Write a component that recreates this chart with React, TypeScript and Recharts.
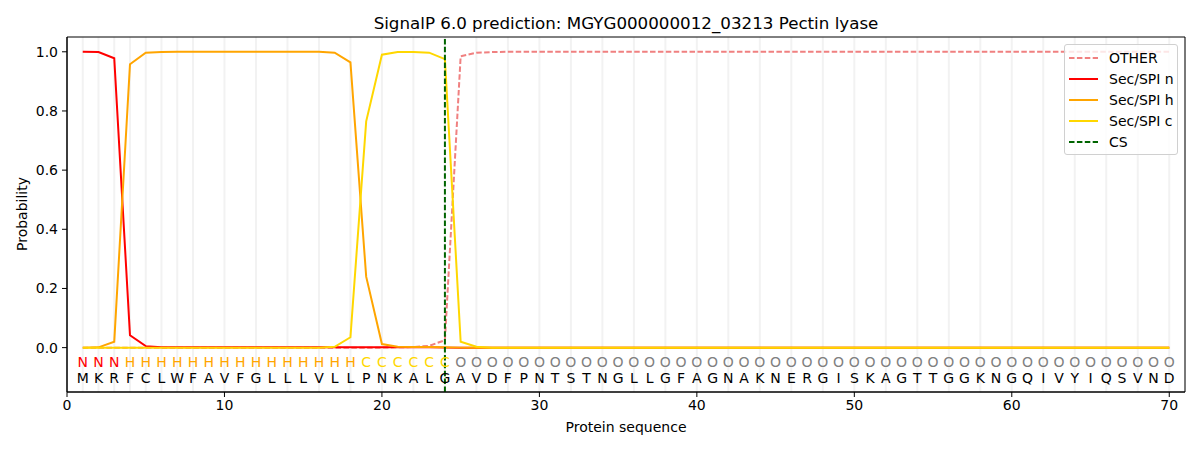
import {
  CartesianGrid,
  ComposedChart,
  Legend,
  Line,
  ReferenceArea,
  ReferenceLine,
  Scatter,
  XAxis,
  YAxis,
} from "recharts";

// residues 1..70
const sequence = [
  "M", "K", "R", "F", "C", "L", "W", "F", "A", "V",
  "F", "G", "L", "L", "L", "V", "L", "L", "P", "N",
  "K", "A", "L", "G", "A", "V", "D", "F", "P", "N",
  "T", "S", "T", "N", "G", "L", "L", "G", "F", "A",
  "G", "N", "A", "K", "N", "E", "R", "G", "I", "S",
  "K", "A", "G", "T", "T", "G", "G", "K", "N", "G",
  "Q", "I", "V", "Y", "I", "Q", "S", "V", "N", "D",
];

const regionLabels = [
  "N", "N", "N", "H", "H", "H", "H", "H", "H", "H",
  "H", "H", "H", "H", "H", "H", "H", "H", "C", "C",
  "C", "C", "C", "C", "O", "O", "O", "O", "O", "O",
  "O", "O", "O", "O", "O", "O", "O", "O", "O", "O",
  "O", "O", "O", "O", "O", "O", "O", "O", "O", "O",
  "O", "O", "O", "O", "O", "O", "O", "O", "O", "O",
  "O", "O", "O", "O", "O", "O", "O", "O", "O", "O",
];

const otherProb = [
  0, 0, 0, 0, 0, 0, 0, 0, 0, 0,
  0, 0, 0, 0, 0, 0, 0, 0, 0, 0,
  0.001, 0.002, 0.006, 0.025, 0.985, 0.997, 0.999, 1, 1, 1,
  1, 1, 1, 1, 1, 1, 1, 1, 1, 1,
  1, 1, 1, 1, 1, 1, 1, 1, 1, 1,
  1, 1, 1, 1, 1, 1, 1, 1, 1, 1,
  1, 1, 1, 1, 1, 1, 1, 1, 1, 1,
];

const secN = [
  1.0, 0.999, 0.978, 0.042, 0.005, 0.001, 0.001, 0.001, 0.001, 0.001,
  0.001, 0.001, 0.001, 0.001, 0.001, 0.001, 0.001, 0.001, 0.001, 0.001,
  0.001, 0.001, 0.001, 0, 0, 0, 0, 0, 0, 0,
  0, 0, 0, 0, 0, 0, 0, 0, 0, 0,
  0, 0, 0, 0, 0, 0, 0, 0, 0, 0,
  0, 0, 0, 0, 0, 0, 0, 0, 0, 0,
  0, 0, 0, 0, 0, 0, 0, 0, 0, 0,
];

const secH = [
  0, 0.001, 0.02, 0.958, 0.997, 0.999, 1, 1, 1, 1,
  1, 1, 1, 1, 1, 1, 0.997, 0.964, 0.24, 0.012,
  0.003, 0.002, 0.002, 0.001, 0, 0, 0, 0, 0, 0,
  0, 0, 0, 0, 0, 0, 0, 0, 0, 0,
  0, 0, 0, 0, 0, 0, 0, 0, 0, 0,
  0, 0, 0, 0, 0, 0, 0, 0, 0, 0,
  0, 0, 0, 0, 0, 0, 0, 0, 0, 0,
];

const secC = [
  0, 0, 0, 0, 0, 0, 0, 0, 0, 0,
  0, 0, 0, 0, 0, 0, 0.003, 0.035, 0.765, 0.99,
  0.999, 0.999, 0.997, 0.975, 0.02, 0.003, 0, 0, 0, 0,
  0, 0, 0, 0, 0, 0, 0, 0, 0, 0,
  0, 0, 0, 0, 0, 0, 0, 0, 0, 0,
  0, 0, 0, 0, 0, 0, 0, 0, 0, 0,
  0, 0, 0, 0, 0, 0, 0, 0, 0, 0,
];

const cleavageSite = 24;
const xTicks = [0, 10, 20, 30, 40, 50, 60, 70];
const yTicks = [0, 0.2, 0.4, 0.6, 0.8, 1.0];

const LABEL_ROW = -0.048;
const SEQ_ROW = -0.103;

const regionColors: Record<string, string> = {
  N: "#ff0000",
  H: "#ffa500",
  C: "#ffd700",
  O: "#808080",
};

const legendItems = [
  { name: "OTHER", color: "#f08080", dashed: true },
  { name: "Sec/SPI n", color: "#ff0000", dashed: false },
  { name: "Sec/SPI h", color: "#ffa500", dashed: false },
  { name: "Sec/SPI c", color: "#ffd700", dashed: false },
  { name: "CS", color: "#006400", dashed: true },
];

const data = sequence.map((aa, i) => ({
  pos: i + 1,
  aa,
  region: regionLabels[i],
  other: otherProb[i],
  n: secN[i],
  h: secH[i],
  c: secC[i],
  labelRow: LABEL_ROW,
  seqRow: SEQ_ROW,
}));
const positions = data.map((d) => d.pos);

const font = "'DejaVu Sans', sans-serif";

function LegendBox() {
  return (
    <div
      style={{
        background: "rgba(255,255,255,0.8)",
        border: "1px solid #d0d0d0",
        borderRadius: 3,
        padding: "2px 8px 2px 4px",
        fontSize: 14,
        fontFamily: font,
        color: "#000",
        width: 100,
      }}
    >
      {legendItems.map((it) => (
        <div
          key={it.name}
          style={{ display: "flex", alignItems: "center", height: 21 }}
        >
          <svg width={29} height={4} style={{ flex: "none" }}>
            <line
              x1={0}
              y1={2}
              x2={29}
              y2={2}
              stroke={it.color}
              strokeWidth={2}
              strokeDasharray={it.dashed ? "5.5 2.4" : undefined}
            />
          </svg>
          <span style={{ marginLeft: 11, whiteSpace: "nowrap" }}>{it.name}</span>
        </div>
      ))}
    </div>
  );
}

function letterShape(row: "region" | "aa") {
  return (props: any) => {
    const { cx, cy, payload } = props;
    const ch = payload[row];
    return (
      <text
        x={cx}
        y={cy}
        textAnchor="middle"
        dominantBaseline="central"
        fontSize={14}
        fontFamily={font}
        fill={row === "region" ? regionColors[ch] : "#000"}
      >
        {ch}
      </text>
    );
  };
}

export default function App() {
  return (
    <div
      style={{
        position: "relative",
        width: 1200,
        height: 450,
        fontFamily: font,
        background: "#fff",
      }}
    >
      <style>{"body{margin:0}"}</style>
      <div
        style={{
          position: "absolute",
          left: 67,
          width: 1118,
          top: 13,
          lineHeight: "20px",
          textAlign: "center",
          fontSize: 16.7,
          color: "#000",
        }}
      >
        SignalP 6.0 prediction: MGYG000000012_03213 Pectin lyase
      </div>
      <div
        style={{
          position: "absolute",
          left: -78,
          width: 200,
          top: 204,
          lineHeight: "20px",
          textAlign: "center",
          fontSize: 14,
          color: "#000",
          transform: "rotate(-90deg)",
        }}
      >
        Probability
      </div>
      <div
        style={{
          position: "absolute",
          left: 67,
          width: 1118,
          top: 417,
          lineHeight: "20px",
          textAlign: "center",
          fontSize: 14,
          color: "#000",
        }}
      >
        Protein sequence
      </div>
      <ComposedChart
        width={1200}
        height={450}
        data={data}
        margin={{ top: 37, right: 15, bottom: 0, left: 0 }}
        style={{ position: "absolute", left: 0, top: 0 }}
      >
        <XAxis
          xAxisId="grid"
          type="number"
          dataKey="pos"
          domain={[0, 71]}
          ticks={positions}
          hide
        />
        <CartesianGrid
          xAxisId="grid"
          horizontal={false}
          stroke="#f2f2f2"
          strokeWidth={2}
        />
        <XAxis
          type="number"
          dataKey="pos"
          domain={[0, 71]}
          ticks={xTicks}
          height={58}
          tickSize={5}
          tickMargin={3}
          tick={{ fill: "#000", fontSize: 14 }}
          tickLine={{ stroke: "#000" }}
          axisLine={{ stroke: "#000" }}
          allowDataOverflow
        />
        <YAxis
          type="number"
          domain={[-0.15, 1.05]}
          ticks={yTicks}
          width={67}
          tickSize={5}
          tickMargin={4}
          tickFormatter={(v: number) => v.toFixed(1)}
          tick={{ fill: "#000", fontSize: 14 }}
          tickLine={{ stroke: "#000" }}
          axisLine={{ stroke: "#000" }}
          allowDataOverflow
        />
        <Line
          dataKey="other"
          stroke="#f08080"
          strokeWidth={2}
          strokeDasharray="5.5 2.4"
          dot={false}
          isAnimationActive={false}
        />
        <Line
          dataKey="n"
          stroke="#ff0000"
          strokeWidth={2}
          dot={false}
          isAnimationActive={false}
        />
        <Line
          dataKey="h"
          stroke="#ffa500"
          strokeWidth={2}
          dot={false}
          isAnimationActive={false}
        />
        <Line
          dataKey="c"
          stroke="#ffd700"
          strokeWidth={2}
          dot={false}
          isAnimationActive={false}
        />
        <ReferenceLine
          x={cleavageSite}
          stroke="#006400"
          strokeWidth={2}
          strokeDasharray="5.5 2.4"
        />
        <Scatter
          data={data}
          dataKey="labelRow"
          shape={letterShape("region")}
          isAnimationActive={false}
        />
        <Scatter
          data={data}
          dataKey="seqRow"
          shape={letterShape("aa")}
          isAnimationActive={false}
        />
        <ReferenceArea
          x1={0}
          x2={71}
          y1={-0.15}
          y2={1.05}
          fill="none"
          stroke="#000"
          strokeWidth={1}
        />
        <Legend
          layout="vertical"
          align="center"
          verticalAlign="middle"
          content={() => <LegendBox />}
          wrapperStyle={{ left: 1064, top: 44, width: "auto" }}
        />
      </ComposedChart>
    </div>
  );
}
